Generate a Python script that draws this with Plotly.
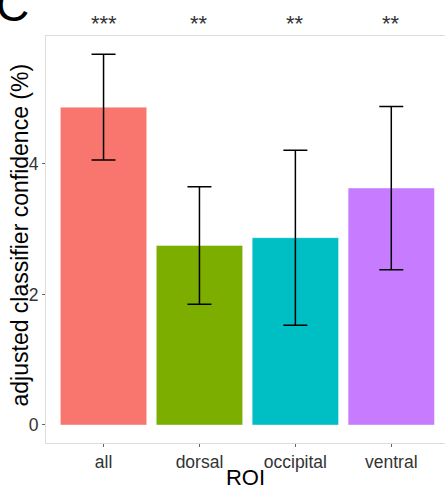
import plotly.graph_objects as go

categories = ["all", "dorsal", "occipital", "ventral"]
means = [4.87, 2.75, 2.87, 3.63]
upper = [5.68, 3.65, 4.21, 4.88]
lower = [4.06, 1.85, 1.53, 2.38]
stars = ["***", "**", "**", "**"]
colors = ["#F8766D", "#7CAE00", "#00BFC4", "#C77CFF"]

err_plus = [u - m for u, m in zip(upper, means)]
err_minus = [m - l for m, l in zip(means, lower)]

fig = go.Figure()
fig.add_trace(go.Bar(
    x=categories, y=means, width=0.9,
    marker=dict(color=colors, line=dict(color="rgba(255,255,255,0.4)", width=1)),
    error_y=dict(type="data", symmetric=False, array=err_plus, arrayminus=err_minus,
                 color="black", thickness=1.5, width=12),
    showlegend=False,
))

for c, s in zip(categories, stars):
    fig.add_annotation(x=c, y=1.0, xref="x", yref="paper", text=s, showarrow=False,
                       yanchor="bottom", yshift=-2, font=dict(size=22, color="#333333"))

fig.add_annotation(x=-0.085, y=1.075, xref="paper", yref="paper", text="C", showarrow=False,
                   xanchor="center", yanchor="middle", font=dict(size=46, color="black"))

fig.add_annotation(x=-0.065, y=0.51, xref="paper", yref="paper",
                   text="adjusted classifier confidence (%)", showarrow=False,
                   textangle=-90, xanchor="center", yanchor="middle",
                   font=dict(size=23, color="black"))

fig.update_layout(
    width=445, height=490,
    margin=dict(l=46, r=0, t=36, b=47),
    plot_bgcolor="white", paper_bgcolor="white",
    font=dict(family="Liberation Sans, Arial, sans-serif"),
    bargap=0.1,
)
fig.update_xaxes(
    range=[-0.6, 3.56],
    showgrid=False, zeroline=False,
    showline=True, linecolor="#DDDDDD", linewidth=1, mirror=True,
    ticks="outside", ticklen=3, tickcolor="#666666",
    tickfont=dict(size=17.5, color="#333333"),
    title=dict(text="ROI", font=dict(size=22, color="black"), standoff=2),
)
fig.update_yaxes(
    range=[-0.276, 5.96],
    tickvals=[0, 2, 4],
    showgrid=False, zeroline=False,
    showline=True, linecolor="#DDDDDD", linewidth=1, mirror=True,
    ticks="outside", ticklen=3, tickcolor="#666666",
    tickfont=dict(size=17.5, color="#333333"),
)

fig.write_html("out.html")
